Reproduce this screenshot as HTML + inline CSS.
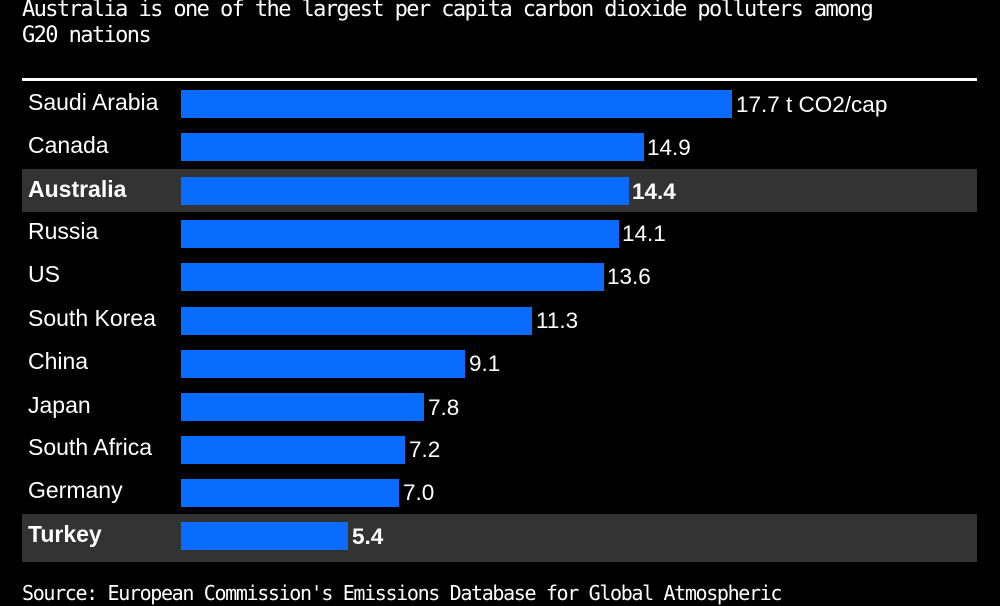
<!DOCTYPE html>
<html><head><meta charset="utf-8"><style>
body{margin:0;background:#000;width:1000px;height:600px;overflow:hidden;position:relative;font-family:"Liberation Sans",sans-serif;color:#fff}
.t{position:absolute;left:22px;font-family:"DejaVu Sans Mono",monospace;font-size:22px;letter-spacing:-1.6px;line-height:26px;color:#fff;white-space:nowrap}
.rule{position:absolute;left:22px;width:955px;top:78px;height:3px;background:#fff}
.band{position:absolute;left:22px;width:955px;height:43px;background:#333}
.lab{position:absolute;left:28px;font-size:23px;line-height:26px;white-space:nowrap}
.bar{position:absolute;left:181px;height:28px;background:#0a6cff}
.val{position:absolute;font-size:22.5px;line-height:26px;white-space:nowrap}
.b{font-weight:bold}
</style></head><body>
<div class="t" style="top:-3px">Australia is one of the largest per capita carbon dioxide polluters among</div>
<div class="t" style="top:23px">G20 nations</div>
<div class="rule"></div>
<div class="band" style="top:169px"></div>
<div class="band" style="top:514px;height:48px"></div>

<div class="lab" style="top:89px">Saudi Arabia</div><div class="bar" style="top:90px;width:551px"></div><div class="val" style="top:92px;left:736px">17.7 t CO2/cap</div>
<div class="lab" style="top:132px">Canada</div><div class="bar" style="top:133px;width:463px"></div><div class="val" style="top:135px;left:647px">14.9</div>
<div class="lab b" style="top:176px">Australia</div><div class="bar" style="top:177px;width:448px"></div><div class="val b" style="top:179px;left:632px">14.4</div>
<div class="lab" style="top:218px">Russia</div><div class="bar" style="top:220px;width:438px"></div><div class="val" style="top:221px;left:622px">14.1</div>
<div class="lab" style="top:261px">US</div><div class="bar" style="top:263px;width:423px"></div><div class="val" style="top:264px;left:607px">13.6</div>
<div class="lab" style="top:305px">South Korea</div><div class="bar" style="top:307px;width:351px"></div><div class="val" style="top:308px;left:536px">11.3</div>
<div class="lab" style="top:348px">China</div><div class="bar" style="top:350px;width:284px"></div><div class="val" style="top:351px;left:469px">9.1</div>
<div class="lab" style="top:392px">Japan</div><div class="bar" style="top:393px;width:243px"></div><div class="val" style="top:395px;left:428px">7.8</div>
<div class="lab" style="top:434px">South Africa</div><div class="bar" style="top:436px;width:224px"></div><div class="val" style="top:437px;left:409px">7.2</div>
<div class="lab" style="top:477px">Germany</div><div class="bar" style="top:479px;width:218px"></div><div class="val" style="top:480px;left:403px">7.0</div>
<div class="lab b" style="top:521px">Turkey</div><div class="bar" style="top:522px;width:167px"></div><div class="val b" style="top:524px;left:352px">5.4</div>

<div class="t" style="top:580px;font-size:20px;letter-spacing:-1.35px">Source: European Commission's Emissions Database for Global Atmospheric</div>
</body></html>
